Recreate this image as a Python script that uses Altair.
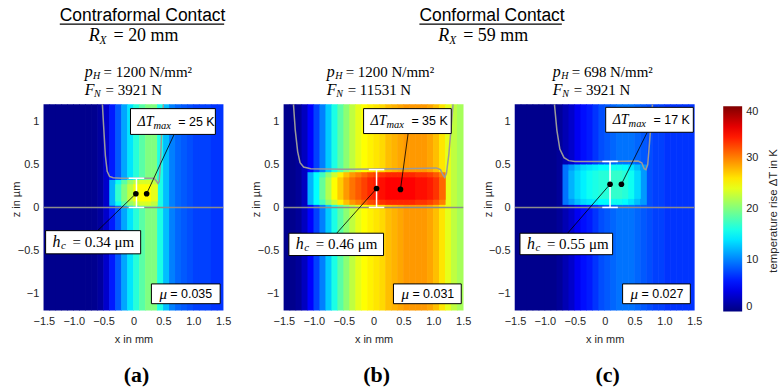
import altair as alt
import pandas as pd

# ---------------- data ----------------
X_CENTERS = [-1.45, -1.35, -1.25, -1.15, -1.05, -0.95, -0.85, -0.75, -0.65, -0.55,
             -0.45, -0.35, -0.25, -0.15, -0.05, 0.05, 0.15, 0.25, 0.35, 0.45,
             0.55, 0.65, 0.75, 0.85, 0.95, 1.05, 1.15, 1.25, 1.35, 1.45]

# temperature rise (K) in the solid bodies, per x column
BULK_A = [0.5, 0.5, 0.5, 0.5, 0.5, 0.5, 0.5, 0.5, 0.6, 1.2,
          3, 6, 8.5, 11.5, 14, 16.5, 18.5, 20, 20, 16,
          12.5, 10, 9, 8.5, 8, 7.5, 7.5, 7.5, 7, 7]
BULK_B = [0.5, 0.5, 1, 2.5, 5, 7.5, 10, 13, 16, 18.5,
          20.5, 22.5, 24, 25, 25.5, 26, 26.5, 27.5, 28, 28.5,
          29, 29, 29, 29, 28.5, 27.5, 26, 24, 22.5, 21.5]
BULK_C = [0.5, 0.5, 0.5, 0.5, 0.5, 0.5, 0.5, 1, 2, 3,
          4.5, 5.5, 6, 7, 8, 8.5, 9, 9.5, 9.5, 9.5,
          9, 8.5, 8, 7.5, 7.5, 7, 7, 7, 7, 7]

# temperature rise (K) inside the lubricant film (None = not part of that layer)
FILM_X_A = [-0.35, -0.25, -0.15, -0.05, 0.05, 0.15, 0.25, 0.35]
FILM_OUT_A = [12, 15.5, 18.5, 21, 22.5, 23.5, 23.5, 22.5]
FILM_CORE_A = [None, 17, 20, 22.5, 24.5, 25, 25, 24]

FILM_X_B = [-1.05, -0.95, -0.85, -0.75, -0.65, -0.55, -0.45, -0.35, -0.25, -0.15, -0.05,
            0.05, 0.15, 0.25, 0.35, 0.45, 0.55, 0.65, 0.75, 0.85, 0.95, 1.05, 1.15]
FILM_OUT_B = [12, 15, 17.5, 20.5, 23, 25.5, 27.5, 29, 30, 31, 32,
              32.5, 33, 33.5, 33.5, 33.5, 33.5, 33.5, 33, 33, 32.5, 31.5, 30]
FILM_CORE_B = [None, None, 19, 22, 25, 27, 29, 30.5, 31.5, 32.5, 33.5,
               34, 34.5, 35, 35, 35, 35, 35, 34.5, 34.5, 34, 33, 31]

FILM_X_C = [-0.65, -0.55, -0.45, -0.35, -0.25, -0.15, -0.05, 0.05, 0.15, 0.25, 0.35, 0.45, 0.55, 0.65]
FILM_OUT_C = [9.5, 11, 12.5, 13.5, 14, 14.5, 15, 15, 15.5, 15.5, 15, 14, 12.5, 11]
FILM_CORE_C = [None, 12, 13.5, 14.5, 15.5, 16, 16.5, 16.5, 17, 17, 16.5, 15.5, 13.5, None]

# gap (surface) profiles
CURVE_A_X = [-0.52, -0.5, -0.47, -0.44, -0.4, -0.34, -0.2, 0.1, 0.34, 0.38, 0.41, 0.43, 0.45, 0.47, 0.5]
CURVE_A_Z = [1.2, 0.95, 0.6, 0.42, 0.36, 0.345, 0.34, 0.34, 0.34, 0.31, 0.28, 0.3, 0.5, 0.85, 1.2]
CURVE_B_X = [-1.34, -1.31, -1.27, -1.23, -1.17, -1.05, -0.5, 0.5, 1.05, 1.12, 1.16, 1.19, 1.22, 1.26, 1.3, 1.33]
CURVE_B_Z = [1.2, 0.9, 0.65, 0.52, 0.47, 0.45, 0.445, 0.45, 0.46, 0.44, 0.38, 0.35, 0.4, 0.62, 0.95, 1.2]
CURVE_C_X = [-0.84, -0.8, -0.75, -0.68, -0.6, -0.5, 0.0, 0.56, 0.62, 0.66, 0.69, 0.72, 0.75, 0.8]
CURVE_C_Z = [1.2, 0.9, 0.68, 0.58, 0.545, 0.535, 0.535, 0.54, 0.52, 0.45, 0.44, 0.5, 0.75, 1.2]

# marked points (x in mm, z in um)
DOTS_X = {"a": [0.04, 0.22], "b": [0.05, 0.45], "c": [0.09, 0.28]}
DOTS_Z = {"a": [0.16, 0.16], "b": [0.22, 0.21], "c": [0.27, 0.27]}

HC = {"a": "0.34", "b": "0.46", "c": "0.55"}
HC_BAR = {"a": 0.34, "b": 0.44, "c": 0.535}
DTMAX = {"a": 25, "b": 35, "c": 17}
MU = {"a": "0.035", "b": "0.031", "c": "0.027"}
PH = {"a": 1200, "b": 1200, "c": 698}
FN = {"a": 3921, "b": 11531, "c": 3921}
RX = {"a": 20, "b": 59}
GROUP_TITLE = {"a": "Contraformal Contact", "b": "Conformal Contact"}
LETTER = {"a": "(a)", "b": "(b)", "c": "(c)"}
CBAR_TITLE = "temperature rise ΔT in K"
CBAR_TICKS = [0, 10, 20, 30, 40]

JET_DOMAIN = [0, 5, 15, 25, 35, 40]
JET_RANGE = ["#000080", "#0000ff", "#00ffff", "#ffff00", "#ff0000", "#800000"]

# ---------------- layout (annotation geometry, in data units) ----------------
HALF = 0.055  # half column width (slight overlap hides anti-aliasing seams)
LAY = {
    "a": dict(out=(0.02, 0.32), core=(0.07, 0.27), err_x=0.05,
              dt_box=(-0.05, 1.37, 0.85, 1.15), dt_lead=(0.68, 0.85),
              hc_box=(-1.47, 0.12, -0.54, -0.27), hc_lead=(-0.6, -0.27),
              mu_box=(0.3, 1.45, -1.12, -0.89), info_x=-0.817,
              title_x=-1.233, ul_x2=1.517, rx_x=-0.75),
    "b": dict(out=(0.03, 0.41), core=(0.09, 0.35), err_x=0.05,
              dt_box=(-0.167, 1.3, 0.86, 1.15), dt_lead=(0.578, 0.86),
              hc_box=(-1.417, 0.167, -0.56, -0.3), hc_lead=(-0.617, -0.3),
              mu_box=(0.333, 1.467, -1.12, -0.89), info_x=-0.783,
              title_x=0.767, ul_x2=3.15, rx_x=1.083),
    "c": dict(out=(0.03, 0.5), core=(0.1, 0.43), err_x=0.09,
              dt_box=(0.017, 1.483, 0.875, 1.165), dt_lead=(0.712, 0.875),
              hc_box=(-1.417, 0.133, -0.55, -0.3), hc_lead=(-0.62, -0.3),
              mu_box=(0.3, 1.433, -1.12, -0.89), info_x=-0.867,
              cbar_title=(2.833, -0.04)),
}

SANS = "Liberation Sans"
SERIF = "Liberation Serif"
TXT = "#262626"

xs = alt.Scale(domain=[-1.5, 1.5], nice=False, zero=False)
zs = alt.Scale(domain=[-1.2, 1.2], nice=False, zero=False)
cs = alt.Scale(domain=JET_DOMAIN, range=JET_RANGE, interpolate="rgb")

AX_X = alt.Axis(values=[-1.5, -1.0, -0.5, 0, 0.5, 1.0, 1.5],
                labelExpr="datum.value == 0 ? '0' : format(datum.value, '.1f')",
                labelOverlap=False, labelFlush=False,
                title="x in mm", labelPadding=5, titlePadding=7)
AX_Y = alt.Axis(values=[-1, -0.5, 0, 0.5, 1], labelExpr="format(datum.value, '~g')",
                labelOverlap=False, labelFlush=False,
                title="z in µm", labelPadding=5, titleX=-22, titleY=95)

LEG = alt.Legend(type="gradient", orient="none", legendX=682, legendY=2,
                 direction="vertical",
                 gradientLength=206, gradientThickness=19, values=CBAR_TICKS,
                 title=None, labelFont=SANS, labelFontSize=11, labelColor=TXT,
                 labelOffset=4, gradientStrokeWidth=0)


def X(f):
    return alt.X(f, type="quantitative", scale=xs, axis=AX_X)


def Y(f):
    return alt.Y(f, type="quantitative", scale=zs, axis=AX_Y)


def heat(xc, vals, z1, z2):
    pairs = [(c, v) for c, v in zip(xc, vals) if v is not None]
    df = pd.DataFrame({"x1": [round(c - HALF, 4) for c, _ in pairs],
                       "x2": [round(c + HALF, 4) for c, _ in pairs],
                       "z1": z1, "z2": z2, "T": [v for _, v in pairs]})
    return alt.Chart(df).mark_rect().encode(
        x=X("x1"), x2=alt.X2("x2"), y=Y("z1"), y2=alt.Y2("z2"),
        color=alt.Color("T:Q", scale=cs, legend=LEG))


def seg(x1, x2, z1, z2, color="black", width=1.0):
    df = pd.DataFrame({"x": [x1], "x2": [x2], "z": [z1], "z2": [z2]})
    return alt.Chart(df).mark_rule(color=color, strokeWidth=width).encode(
        x=X("x"), x2=alt.X2("x2"), y=Y("z"), y2=alt.Y2("z2"))


def box(b):
    df = pd.DataFrame({"x": [b[0]], "x2": [b[1]], "z": [b[2]], "z2": [b[3]]})
    return alt.Chart(df).mark_rect(fill="white", stroke="black", strokeWidth=1).encode(
        x=X("x"), x2=alt.X2("x2"), y=Y("z"), y2=alt.Y2("z2"))


def piece(x, z, text, dx=0, dy=0, size=12, font=SERIF, style="normal",
          weight="normal", align="left", color="black", angle=0):
    df = pd.DataFrame({"x": [x], "z": [z], "t": [text]})
    return alt.Chart(df).mark_text(dx=dx, dy=dy, fontSize=size, font=font,
                                   fontStyle=style, fontWeight=weight, align=align,
                                   baseline="middle", color=color, angle=angle).encode(
        x=X("x"), y=Y("z"), text="t:N")


def curve(xv, zv):
    df = pd.DataFrame({"x": xv, "z": zv, "i": list(range(len(xv)))})
    return alt.Chart(df).mark_line(color="#9a9a9a", strokeWidth=1.5).encode(
        x=X("x"), y=Y("z"), order="i:Q")


def dots(key):
    df = pd.DataFrame({"x": DOTS_X[key], "z": DOTS_Z[key]})
    return alt.Chart(df).mark_circle(size=32, color="black", opacity=1).encode(
        x=X("x"), y=Y("z"))


def panel(key, bulk, fx, fout, fcore, cx, cz):
    L = LAY[key]
    layers = [
        heat(X_CENTERS, bulk, -1.2, 1.2),
        heat(fx, fout, L["out"][0], L["out"][1]),
        heat(fx, fcore, L["core"][0], L["core"][1]),
        seg(-1.5, 1.5, 0, 0, color="#8c8c8c", width=1.5),
        curve(cx, cz),
    ]
    ex, top = L["err_x"], HC_BAR[key]
    layers += [seg(ex, ex, 0, top, "white", 1.5),
               seg(ex - 0.13, ex + 0.13, 0, 0, "white", 1.5),
               seg(ex - 0.13, ex + 0.13, top, top, "white", 1.5)]
    d1x, d2x = DOTS_X[key]
    d1z, d2z = DOTS_Z[key]
    layers += [seg(L["dt_lead"][0], d2x, L["dt_lead"][1], d2z, "black", 0.8),
               seg(L["hc_lead"][0], d1x, L["hc_lead"][1], d1z, "black", 0.8),
               dots(key)]
    # boxes
    db, hb, mb = L["dt_box"], L["hc_box"], L["mu_box"]
    layers += [box(db), box(hb), box(mb)]
    zc = (db[2] + db[3]) / 2
    layers += [piece(db[0], zc, "ΔT", dx=7, size=14, style="italic"),
               piece(db[0], zc, "max", dx=23, dy=4, size=10.5, style="italic"),
               piece(db[0], zc, f"= {DTMAX[key]} K", dx=48, size=12.5, font=SANS)]
    zc = (hb[2] + hb[3]) / 2
    layers += [piece(hb[0], zc, "h", dx=7, size=16, style="italic"),
               piece(hb[0], zc, "c", dx=15.5, dy=4, size=11, style="italic"),
               piece(hb[0], zc, f"= {HC[key]} μm", dx=27, size=15)]
    zc = (mb[2] + mb[3]) / 2
    layers += [piece(mb[0], zc, "μ", dx=8, size=15, style="italic"),
               piece(mb[0], zc, f"= {MU[key]}", dx=19, size=12.5, font=SANS)]
    # load info above the panel
    ix = L["info_x"]
    layers += [piece(ix, 1.575, "p", dx=0, size=16, style="italic"),
               piece(ix, 1.575, "H", dx=8.5, dy=4, size=10, style="italic"),
               piece(ix, 1.575, f"= {PH[key]} N/mm²", dx=19, size=15),
               piece(ix, 1.365, "F", dx=0, size=16, style="italic"),
               piece(ix, 1.365, "N", dx=9.5, dy=4, size=10, style="italic"),
               piece(ix, 1.365, f"= {FN[key]} N", dx=21, size=15)]
    if key in GROUP_TITLE:
        layers += [piece(L["title_x"], 2.226, GROUP_TITLE[key], size=17.5, font=SANS),
                   seg(L["title_x"], L["ul_x2"], 2.133, 2.133, "black", 1.2),
                   piece(L["rx_x"], 1.99, "R", size=18, style="italic"),
                   piece(L["rx_x"], 1.99, "X", dx=11, dy=5, size=11.5, style="italic"),
                   piece(L["rx_x"], 1.99, f"= {RX[key]} mm", dx=25, size=18)]
    if "cbar_title" in L:
        tx, tz = L["cbar_title"]
        layers += [piece(tx, tz, CBAR_TITLE, size=11.5, font=SANS, align="center",
                         color=TXT, angle=270)]
    layers += [piece(0.05, -1.95, LETTER[key], size=22, weight="bold", align="center")]
    return alt.layer(*layers).properties(width=180, height=207)


pa = panel("a", BULK_A, FILM_X_A, FILM_OUT_A, FILM_CORE_A, CURVE_A_X, CURVE_A_Z)
pb = panel("b", BULK_B, FILM_X_B, FILM_OUT_B, FILM_CORE_B, CURVE_B_X, CURVE_B_Z)
pc = panel("c", BULK_C, FILM_X_C, FILM_OUT_C, FILM_CORE_C, CURVE_C_X, CURVE_C_Z)

chart = alt.hconcat(
    pa,
    alt.hconcat(pb, pc, spacing=52, bounds="flush"),
    spacing=61, bounds="flush",
).properties(
    padding={"left": 11, "top": 6, "right": 0, "bottom": 0}
).configure_view(stroke=None).configure_axis(
    labelFont=SANS, labelFontSize=11, labelColor=TXT,
    titleFont=SANS, titleFontSize=11, titleFontWeight="normal", titleColor=TXT,
    ticks=False, domain=False, grid=False,
)

chart.save("out.html", embed_options={"renderer": "svg", "actions": False})
